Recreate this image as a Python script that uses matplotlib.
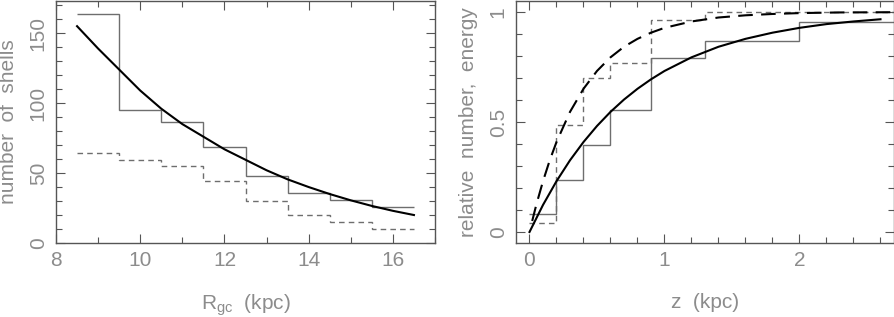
import matplotlib
matplotlib.use("Agg")
import matplotlib.pyplot as plt
from matplotlib.ticker import MultipleLocator, FixedLocator, FixedFormatter

plt.rcParams['font.family'] = ['Liberation Sans Narrow', 'Liberation Sans', 'DejaVu Sans']

# left panel: shells vs galactocentric radius
r_edges = [8.5, 9.5, 10.5, 11.5, 12.5, 13.5, 14.5, 15.5, 16.5]
n_shells = [164, 95, 86.5, 68.5, 48, 36, 31, 25.5]
n_dashed = [64.5, 59.5, 55, 44.5, 29.7, 19.7, 14.9, 9.7]
r_fit = [8.5, 9.0, 9.5, 10.0, 10.5, 11.0, 11.5, 12.0, 12.5, 13.0, 13.5,
         14.0, 14.5, 15.0, 15.5, 16.0, 16.5]
n_fit = [155, 139, 124, 109, 96, 85, 76, 67, 59.5, 52, 45.5,
         40, 35, 30.5, 26.5, 23, 20]

# right panel: cumulative relative number / energy vs height z
z_edges = [0, 0.2, 0.4, 0.6, 0.9, 1.3, 2.0, 2.7]
rel_number = [0.08, 0.235, 0.395, 0.553, 0.789, 0.869, 0.953]
z_edges_e = [0, 0.2, 0.4, 0.6, 0.9, 1.3, 2.7]
rel_energy = [0.04, 0.487, 0.70, 0.77, 0.963, 0.998]
z_fit = [0, 0.1, 0.2, 0.3, 0.4, 0.5, 0.6, 0.7, 0.8, 0.9, 1.0, 1.2, 1.4,
         1.6, 1.8, 2.0, 2.2, 2.4, 2.6]
number_fit = [0, 0.123, 0.231, 0.326, 0.409, 0.482, 0.546, 0.602, 0.651,
              0.694, 0.732, 0.794, 0.842, 0.878, 0.906, 0.928, 0.945, 0.957, 0.967]
z_fit_e = [0.02, 0.05, 0.1, 0.15, 0.2, 0.3, 0.4, 0.5, 0.6, 0.7, 0.8, 0.9,
           1.0, 1.2, 1.4, 1.6, 1.8, 2.0, 2.3, 2.68]
energy_fit = [0.05, 0.123, 0.231, 0.326, 0.409, 0.546, 0.651, 0.732, 0.794,
              0.842, 0.878, 0.906, 0.928, 0.957, 0.975, 0.985, 0.991, 0.995,
              0.998, 0.999]

text_col = '#8c8c8c'
frame_col = '#555555'
hist_col = '#6e6e6e'

fig = plt.figure(figsize=(8.95, 3.17), dpi=100)
ax1 = fig.add_axes([56/895, 1-243/317, (435-56)/895, 242/317])
ax2 = fig.add_axes([516/895, 1-243/317, (894-516)/895, 242/317])

for ax in (ax1, ax2):
    for s in ax.spines.values():
        s.set_color(frame_col)
        s.set_linewidth(1.0)
    ax.tick_params(which='both', direction='in', top=True, right=True,
                   color=frame_col, labelcolor=text_col, labelsize=15, width=0.8)
    ax.tick_params(which='major', length=6.5, pad=6)
    ax.tick_params(which='minor', length=4)
    for lab in ax.get_yticklabels():
        pass

# left
ax1.stairs(n_shells, r_edges, baseline=None, color=hist_col, lw=1.0)
ax1.stairs(n_dashed, r_edges, baseline=None, color=hist_col, lw=1.0,
           linestyle=(0, (4, 3)))
ax1.plot(r_fit, n_fit, color='black', lw=1.5)
ax1.set_xlim(8, 17)
ax1.set_ylim(0, 173)
ax1.xaxis.set_major_locator(MultipleLocator(2))
ax1.xaxis.set_minor_locator(MultipleLocator(1))
ax1.yaxis.set_major_locator(MultipleLocator(50))
ax1.yaxis.set_minor_locator(MultipleLocator(10))
ax1.set_xlabel(r'R$_\mathregular{gc}$  (kpc)', color=text_col, fontsize=15, labelpad=16)
ax1.set_ylabel('number  of  shells', color=text_col, fontsize=15, labelpad=8)

# right
ax2.stairs(rel_number, z_edges, baseline=None, color=hist_col, lw=1.0)
ax2.stairs(rel_energy, z_edges_e, baseline=None, color=hist_col, lw=1.0,
           linestyle=(0, (4, 3)))
ax2.plot(z_fit, number_fit, color='black', lw=1.5)
ax2.plot(z_fit_e, energy_fit, color='black', lw=1.5, linestyle=(0, (7, 4)))
ax2.set_xlim(-0.1, 2.7)
ax2.set_ylim(-0.05, 1.05)
ax2.xaxis.set_major_locator(MultipleLocator(1))
ax2.xaxis.set_minor_locator(MultipleLocator(0.2))
ax2.yaxis.set_major_locator(FixedLocator([0, 0.5, 1]))
ax2.yaxis.set_major_formatter(FixedFormatter(['0', '0.5', '1']))
ax2.yaxis.set_minor_locator(MultipleLocator(0.1))
ax2.set_xlabel('z  (kpc)', color=text_col, fontsize=15, labelpad=16)
ax2.set_ylabel('relative  number,  energy', color=text_col, fontsize=15, labelpad=8)

for ax in (ax1, ax2):
    for lab in ax.get_yticklabels():
        lab.set_rotation(90)
        lab.set_va('center')

fig.savefig('out.png', dpi=100)
